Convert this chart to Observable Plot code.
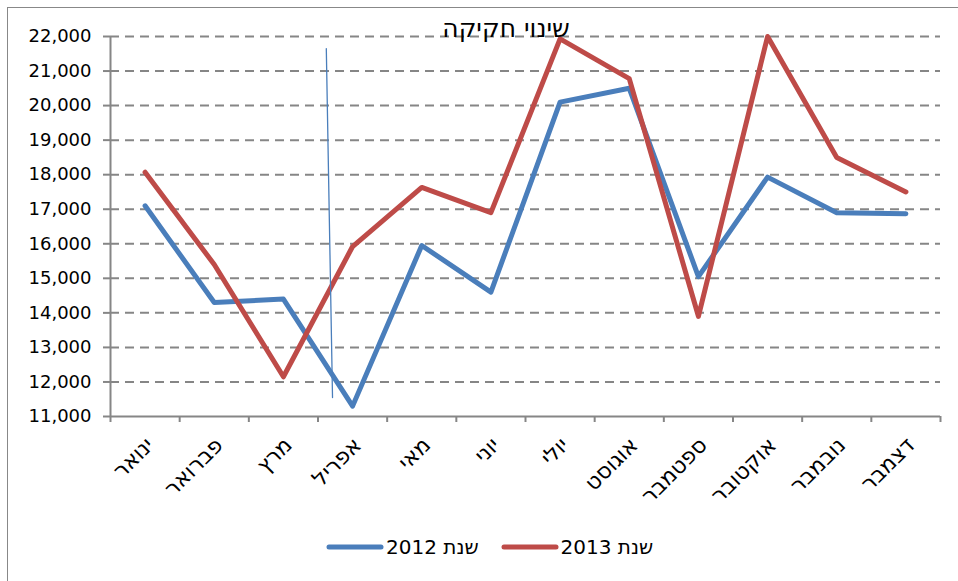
<!DOCTYPE html>
<html>
<head>
<meta charset="utf-8">
<script src="https://cdn.jsdelivr.net/npm/d3@7"></script>
<script src="https://cdn.jsdelivr.net/npm/@observablehq/plot@0.6"></script>
<style>
  html, body { margin: 0; padding: 0; background: #fff; }
  #wrap { position: relative; width: 958px; height: 581px; overflow: hidden; font-family: "DejaVu Sans", sans-serif; }
  #frame { position: absolute; left: 7px; top: 7px; width: 960px; height: 600px; border-left: 1px solid #888; border-top: 1px solid #888; }
  #chart { position: absolute; left: 0; top: 0; }
  #title { position: absolute; left: 506px; top: 14px; transform: translateX(-50%); font-size: 25px; color: #000; white-space: nowrap; }
  #legend { position: absolute; left: 326px; top: 535px; display: flex; align-items: center; font-size: 20px; color: #000; }
  .item { display: flex; align-items: center; margin-right: 22px; }
  .item svg { margin-right: 2px; }
</style>
</head>
<body>
<div id="wrap">
  <div id="frame"></div>
  <div id="chart"></div>
  <div id="title">שינוי חקיקה</div>
  <div id="legend"></div>
</div>
<script>
const months = ["ינואר","פברואר","מרץ","אפריל","מאי","יוני","יולי","אוגוסט","ספטמבר","אוקטובר","נובמבר","דצמבר"];
const values2012 = [17100, 14300, 14400, 11300, 15950, 14600, 20100, 20500, 15050, 17930, 16900, 16870];
const values2013 = [18070, 15400, 12150, 15920, 17630, 16900, 21930, 20780, 13900, 22000, 18500, 17500];
const seriesNames = ["שנת 2012", "שנת 2013"];
const seriesColors = ["#4a7ebb", "#be4b48"];
const yTicks = [11000, 12000, 13000, 14000, 15000, 16000, 17000, 18000, 19000, 20000, 21000, 22000];
// stray annotation stroke (month index, value)
const strayX = [2.62, 2.71];
const strayY = [21650, 11550];

const boundaries = d3.range(months.length + 1).map(i => i - 0.5);
const rows = [];
months.forEach((m, i) => {
  rows.push({i, month: m, value: values2012[i], series: seriesNames[0]});
});
months.forEach((m, i) => {
  rows.push({i, month: m, value: values2013[i], series: seriesNames[1]});
});
const stray = strayX.map((x, k) => ({x, y: strayY[k]}));

const grey = "#868686";
const plot = Plot.plot({
  width: 958,
  height: 581,
  marginLeft: 110,
  marginRight: 18,
  marginTop: 36,
  marginBottom: 165,
  style: {fontFamily: "DejaVu Sans, sans-serif", background: "transparent", overflow: "visible"},
  x: {domain: [-0.5, months.length - 0.5]},
  y: {domain: [11000, 22000]},
  color: {domain: seriesNames, range: seriesColors},
  marks: [
    Plot.ruleY(yTicks.slice(1), {stroke: grey, strokeWidth: 2, strokeDasharray: "9,6"}),
    Plot.axisY(yTicks, {tickFormat: d3.format(","), tickSize: 7, tickPadding: 12, fontSize: 18, stroke: grey, strokeWidth: 2, strokeOpacity: 1, fill: "#000", label: null}),
    Plot.axisX(boundaries, {tickFormat: () => "", tickSize: 6, stroke: grey, strokeWidth: 2, strokeOpacity: 1, label: null}),
    Plot.ruleX([-0.5], {stroke: grey, strokeWidth: 2}),
    Plot.ruleY([11000], {stroke: grey, strokeWidth: 2}),
    Plot.text(months, {x: (d, i) => i, y: () => 11000, text: d => d, rotate: -45, textAnchor: "end", dx: 5, dy: 25, fontSize: 22, fill: "#000"}),
    Plot.line(rows, {x: "i", y: "value", stroke: "series", z: "series", strokeWidth: 5, strokeLinejoin: "round", strokeLinecap: "round"}),
    Plot.line(stray, {x: "x", y: "y", stroke: seriesColors[0], strokeWidth: 1.3})
  ]
});
document.getElementById("chart").appendChild(plot);

const legend = document.getElementById("legend");
seriesNames.forEach((name, k) => {
  const item = document.createElement("div");
  item.className = "item";
  item.innerHTML = `<svg width="58" height="10"><line x1="3" y1="5" x2="55" y2="5" stroke="${seriesColors[k]}" stroke-width="5" stroke-linecap="round"/></svg><span>${name}</span>`;
  legend.appendChild(item);
});
</script>
</body>
</html>
